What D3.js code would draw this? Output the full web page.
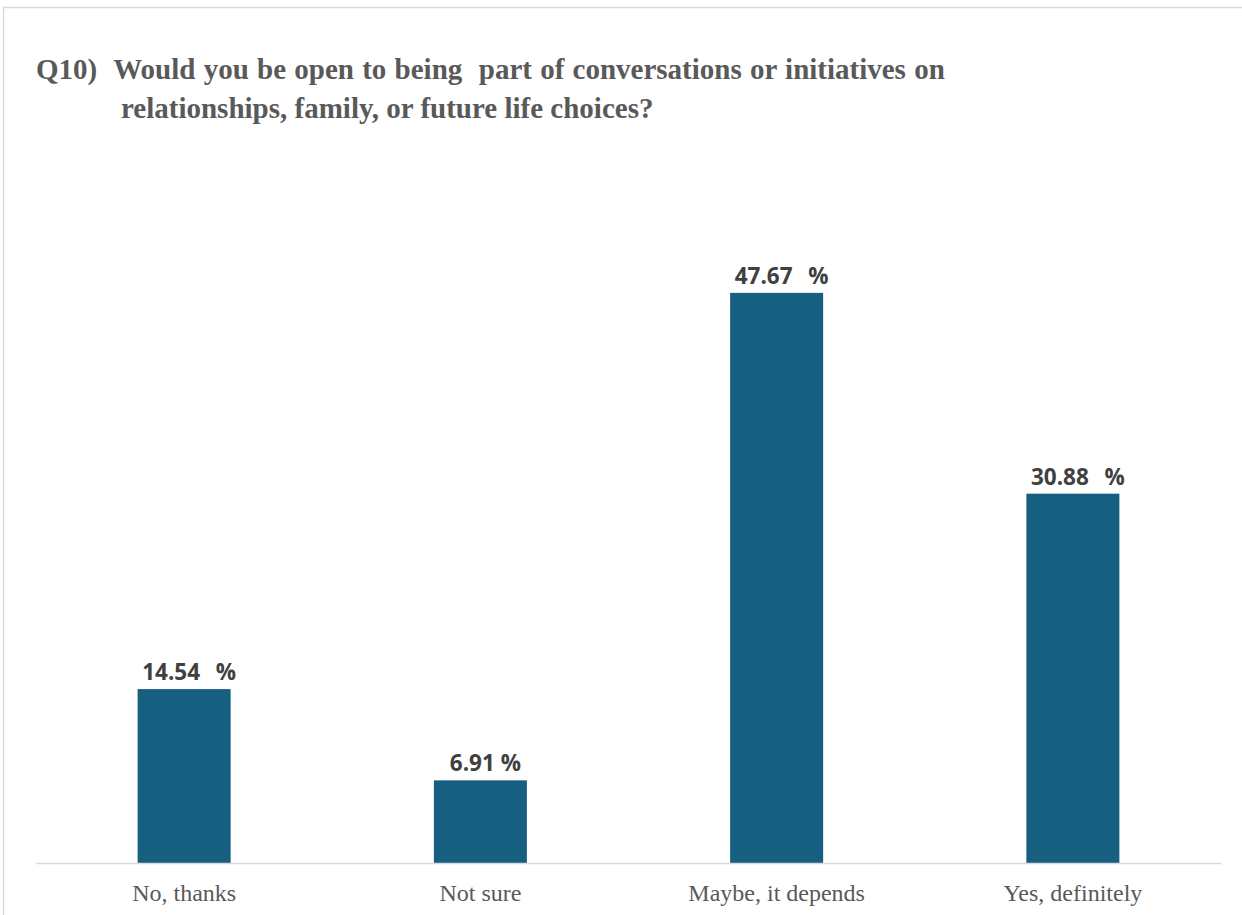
<!DOCTYPE html>
<html>
<head>
<meta charset="utf-8">
<script src="https://cdn.jsdelivr.net/npm/d3@7"></script>
<style>
  body { margin: 0; background: #fff; }
</style>
</head>
<body>
<div id="chart"></div>
<script>
// survey answers, Q10
const categories = ["No, thanks", "Not sure", "Maybe, it depends", "Yes, definitely"];
const percents = [14.54, 6.91, 47.67, 30.88];
const valueLabels = ["14.54  %", "6.91 %", "47.67  %", "30.88  %"];
const titleLines = [
  "Q10)  Would you be open to being  part of conversations or initiatives on",
  "relationships, family, or future life choices?"
];

const width = 1242;
const height = 915;
const baseY = 863;

const svg = d3.select("#chart")
  .append("svg")
  .attr("width", width)
  .attr("height", height);

// chart area border (runs off the right/bottom of the picture)
svg.append("rect")
  .attr("x", 3.5)
  .attr("y", 7.5)
  .attr("width", 1300)
  .attr("height", 1000)
  .attr("fill", "#fff")
  .attr("stroke", "#d9d9d9")
  .attr("stroke-width", 1.5);

// title
svg.append("text")
  .attr("x", 36)
  .attr("y", 79)
  .style("font-family", "'Liberation Serif', 'Times New Roman', serif")
  .style("font-weight", "700")
  .style("font-size", "29px")
  .style("word-spacing", "1px")
  .style("fill", "#595959")
  .style("white-space", "pre")
  .attr("xml:space", "preserve")
  .text(titleLines[0]);

svg.append("text")
  .attr("x", 121)
  .attr("y", 118)
  .style("font-family", "'Liberation Serif', 'Times New Roman', serif")
  .style("font-weight", "700")
  .style("font-size", "29px")
  .style("fill", "#595959")
  .text(titleLines[1]);

const xScale = d3.scaleBand()
  .domain(categories)
  .range([36, 1221])
  .paddingInner(0.686)
  .paddingOuter(0.343);

const yScale = d3.scaleLinear()
  .domain([0, 50])
  .range([baseY, baseY - 598]);

// bars
svg.append("g")
  .selectAll("rect")
  .data(percents)
  .join("rect")
  .attr("x", (d, i) => xScale(categories[i]))
  .attr("y", d => yScale(d))
  .attr("width", xScale.bandwidth())
  .attr("height", d => yScale(0) - yScale(d))
  .attr("fill", "#175f80");

// value labels
svg.append("g")
  .selectAll("text")
  .data(percents)
  .join("text")
  .attr("x", (d, i) => xScale(categories[i]) + xScale.bandwidth() / 2 + 5)
  .attr("y", d => yScale(d) - 9)
  .attr("text-anchor", "middle")
  .attr("xml:space", "preserve")
  .style("white-space", "pre")
  .style("word-spacing", (d, i) => valueLabels[i].includes("  ") ? "2px" : "0px")
  .style("font-family", "'Open Sans', 'Noto Sans', sans-serif")
  .style("font-weight", "700")
  .style("font-size", "22.5px")
  .style("fill", "#404040")
  .text((d, i) => valueLabels[i]);

// x axis
const xAxis = d3.axisBottom(xScale).tickSize(0).tickPadding(21);
const xAxisGroup = svg.append("g")
  .attr("transform", `translate(0, ${baseY})`)
  .call(xAxis);

xAxisGroup.select(".domain")
  .attr("stroke", "#d9d9d9")
  .attr("stroke-width", 1.5);

xAxisGroup.selectAll("text")
  .style("font-family", "'Liberation Serif', 'Times New Roman', serif")
  .style("font-size", "24px")
  .style("fill", "#595959");
</script>
</body>
</html>
